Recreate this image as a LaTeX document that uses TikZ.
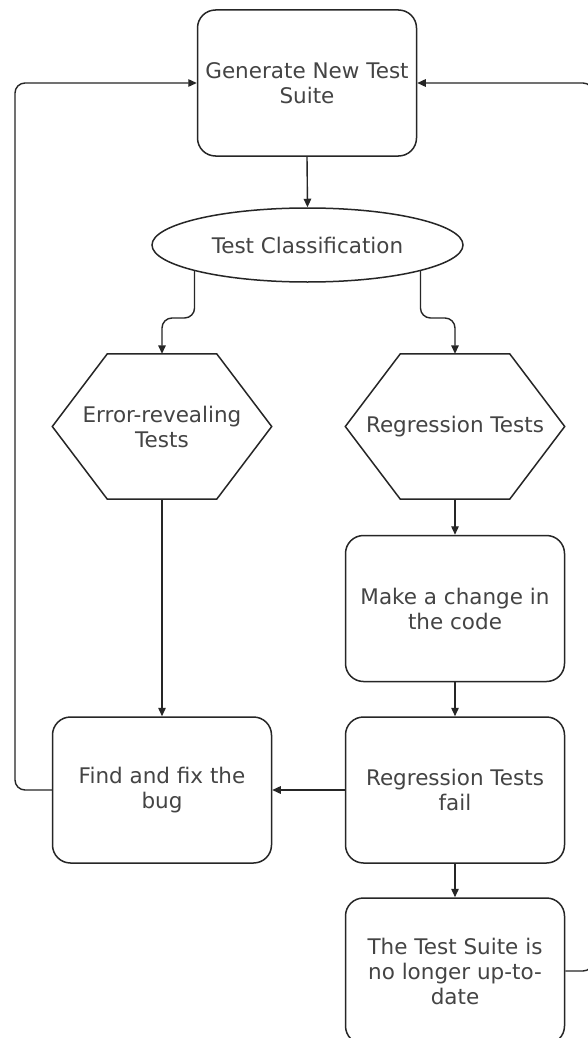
\documentclass[tikz,border=0pt]{standalone}
\usepackage{fontspec}
\setmainfont{DejaVu Sans}
\usetikzlibrary{arrows.meta, calc, shapes.geometric, positioning}
\definecolor{ln}{HTML}{262626}
\definecolor{tx}{HTML}{444444}

\begin{document}
\begin{tikzpicture}[x=1pt, y=-1pt,
    font=\fontsize{21.5}{25}\selectfont,
    box/.style={draw=ln, line width=1.5pt, rounded corners=18pt, minimum width=219pt, minimum height=146pt, align=center, text=tx, inner sep=0pt},
    hexa/.style={minimum width=219pt, minimum height=145pt, align=center, text=tx, inner sep=0pt},
    oval/.style={ellipse, draw=ln, line width=1.5pt, minimum width=311pt, minimum height=74pt, text=tx, inner sep=0pt},
    link/.style={draw=ln, line width=1.4pt, -{Triangle[length=8.5pt, width=7.5pt]}}]

    \fill[white] (0,0) rectangle (587,1038);
    \useasboundingbox (0,0) rectangle (587,1038);

    \coordinate (loopL) at (15, 0);
    \coordinate (loopR) at (593, 0);
    \coordinate (midB) at (0, 318);

    \node[box] (gen) at (307, 83) {Generate New Test\\Suite};
    \node[oval] (cls) at (307.5, 245) {Test Classification};

    \node[hexa] (err) at (162, 426.5) {Error-revealing\\Tests};
    \node[hexa] (reg) at (455, 426.5) {Regression Tests};

    % hexagon outlines
    \foreach \h in {err, reg}
        \draw[draw=ln, line width=1.5pt] (\h.west) -- ($(\h.north west)+(55,0)$) -- ($(\h.north east)+(-55,0)$)
            -- (\h.east) -- ($(\h.south east)+(-55,0)$) -- ($(\h.south west)+(55,0)$) -- cycle;

    \node[box] (chg) at (455, 608.5) {Make a change in\\the code};
    \node[box] (find) at (162, 790) {Find and fix the\\bug};
    \node[box] (fail) at (455, 790) {Regression Tests\\fail};
    \node[box] (stale) at (455, 971) {The Test Suite is\\no longer up-to-\\date};

    \draw[link] (gen.south) -- (cls.north);
    \draw[link, rounded corners=10pt] (cls.193) -- (cls.193 |- midB) -| (err.north);
    \draw[link, rounded corners=10pt] (cls.-13) -- (cls.-13 |- midB) -| (reg.north);

    \draw[link] (err.south) -- (find.north);
    \draw[link] (reg.south) -- (chg.north);
    \draw[link] (chg.south) -- (fail.north);
    \draw[link] (fail.west) -- (find.east);
    \draw[link] (fail.south) -- (stale.north);

    % loops back to the top
    \draw[link, rounded corners=10pt] (find.west) -- (find.west -| loopL) -- (gen.west -| loopL) -- (gen.west);
    \draw[link, rounded corners=10pt] (stale.east) -- (stale.east -| loopR) -- (gen.east -| loopR) -- (gen.east);

\end{tikzpicture}
\end{document}
